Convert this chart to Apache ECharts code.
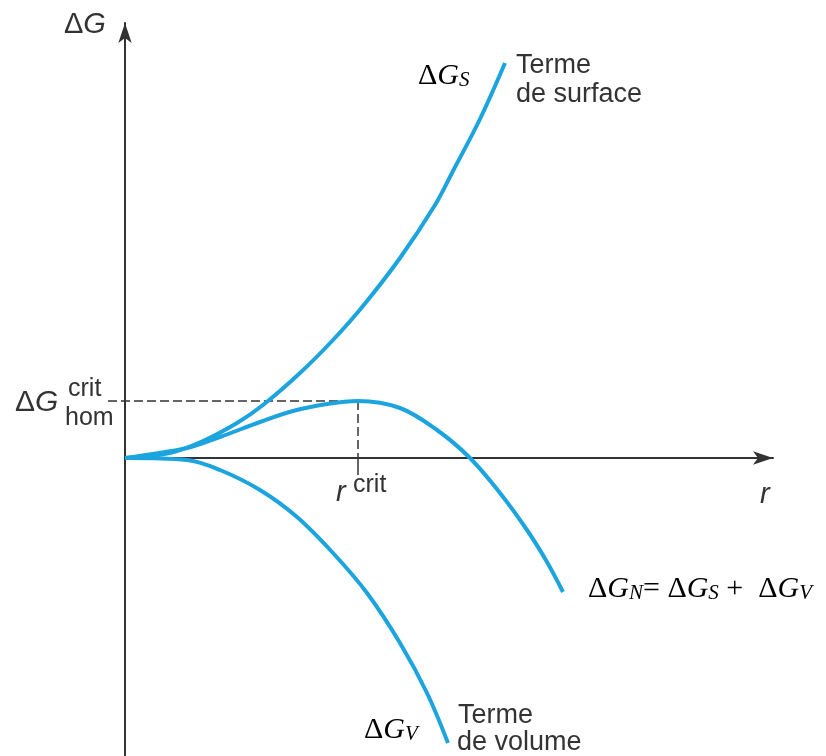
<!DOCTYPE html>
<html>
<head>
<meta charset="utf-8">
<script src="https://cdn.jsdelivr.net/npm/echarts@6/dist/echarts.min.js"></script>
<style>
  html, body { margin: 0; background: #fff; }
  #chart { width: 826px; height: 756px; }
</style>
</head>
<body>
<div id="chart"></div>
<script>
// radius r and free-energy terms, arbitrary units
const rSurface = [0, 4.5, 7.8, 11.2, 13.8, 17.5, 20.8, 23.8, 27.5, 31.0, 32.8, 35.5, 38.0];
const gSurface = [0, 0.5, 1.7, 3.5, 5.3, 8.5, 11.8, 15.2, 20.0, 25.3, 28.7, 33.9, 39.5];

const rTotal = [0, 6.2, 9.5, 13.5, 16.8, 20.2, 23.3, 27.5, 31.2, 34.5, 37.5, 40.2, 42.2, 43.8];
const gTotal = [0, 1.0, 2.1, 3.6, 4.7, 5.4, 5.7, 5.0, 2.8, 0, -3.5, -7.2, -10.4, -13.4];

const rVolume = [0, 6.2, 9.5, 13.5, 17.2, 20.8, 24.2, 27.5, 30.2, 32.3];
const gVolume = [0, -0.2, -1.2, -3.2, -5.9, -9.5, -13.5, -18.5, -23.5, -28.5];

const rCrit = 23.3;
const gCrit = 5.7;

const zip = (xs, ys) => xs.map((x, i) => [x, ys[i]]);

const blue = '#1ca4de';
const ink = '#333';
const sans = '"Liberation Sans", Arial, sans-serif';
const serif = '"Liberation Serif", "Times New Roman", serif';

let chart = echarts.init(document.getElementById('chart'));

function txt(x, y, text, font, fill) {
    return {
        type: 'text', x: x, y: y, silent: true,
        style: { text: text, font: font, fill: fill || ink, verticalAlign: 'middle' }
    };
}

// rich math label: Δ upright, G italic, subscript italic
function mathLabel(x, y, text) {
    return {
        type: 'text', x: x, y: y, silent: true,
        style: {
            text: text,
            fill: '#000',
            verticalAlign: 'middle',
            rich: {
                m: { font: '30px ' + serif, lineHeight: 30, verticalAlign: 'bottom', fill: '#000' },
                i: { font: 'italic 30px ' + serif, lineHeight: 30, verticalAlign: 'bottom', fill: '#000' },
                s: { font: 'italic 21px ' + serif, lineHeight: 10, verticalAlign: 'bottom', fill: '#000' }
            }
        }
    };
}

function curve(name, xs, ys) {
    return {
        name: name, type: 'line', smooth: 0.35, symbol: 'none', z: 3,
        lineStyle: { color: blue, width: 4 },
        data: zip(xs, ys)
    };
}

chart.setOption({
    animation: false,
    grid: { left: 125, right: 53, top: 23, bottom: 0 },
    xAxis: {
        type: 'value', min: 0, max: 64.8,
        axisLine: { onZero: true, symbol: ['none', 'arrow'], symbolSize: [10, 20], lineStyle: { color: '#333', width: 2 } },
        axisTick: { show: false }, axisLabel: { show: false }, splitLine: { show: false }
    },
    yAxis: {
        type: 'value', min: -29.8, max: 43.5,
        axisLine: { onZero: false, symbol: ['none', 'arrow'], symbolSize: [10, 20], lineStyle: { color: '#333', width: 2 } },
        axisTick: { show: false }, axisLabel: { show: false }, splitLine: { show: false }
    },
    series: [
        curve('ΔG_S', rSurface, gSurface),
        curve('ΔG_N', rTotal, gTotal),
        curve('ΔG_V', rVolume, gVolume)
    ]
});

// critical point guides, placed through the axes
const peak = chart.convertToPixel({ gridIndex: 0 }, [rCrit, gCrit]);
const foot = chart.convertToPixel({ gridIndex: 0 }, [rCrit, 0]);
const dash = { stroke: '#333', lineWidth: 1.5, lineDash: [9, 4] };

chart.setOption({
    graphic: [
        { type: 'line', silent: true, z: 1, shape: { x1: 108, y1: peak[1], x2: peak[0], y2: peak[1] }, style: dash },
        { type: 'line', silent: true, z: 1, shape: { x1: peak[0], y1: peak[1], x2: foot[0], y2: foot[1] }, style: dash },
        { type: 'line', silent: true, z: 1, shape: { x1: foot[0], y1: foot[1], x2: foot[0], y2: foot[1] + 17 }, style: { stroke: '#333', lineWidth: 1.5 } },
        {
            type: 'text', x: 64, y: 25, silent: true,
            style: {
                text: '{a|Δ}{b|G}', verticalAlign: 'middle',
                rich: {
                    a: { font: '29px ' + sans, fill: ink },
                    b: { font: 'italic 29px ' + sans, fill: ink }
                }
            }
        },
        {
            type: 'text', x: 15, y: 403, silent: true,
            style: {
                text: '{a|Δ}{b|G}', verticalAlign: 'middle',
                rich: {
                    a: { font: '30px ' + sans, fill: ink },
                    b: { font: 'italic 30px ' + sans, fill: ink }
                }
            }
        },
        txt(68, 389, 'crit', '25px ' + sans),
        txt(65, 418, 'hom', '25px ' + sans),
        txt(336, 493, 'r', 'italic 29px ' + sans),
        txt(353, 485, 'crit', '25px ' + sans),
        txt(760, 495, 'r', 'italic 29px ' + sans),
        txt(516, 66, 'Terme', '27px ' + sans),
        txt(516, 95, 'de surface', '27px ' + sans),
        txt(458, 716, 'Terme', '27px ' + sans),
        txt(457, 743, 'de volume', '27px ' + sans),
        mathLabel(418, 76, '{m|Δ}{i|G}{s|S}'),
        mathLabel(364, 730, '{m|Δ}{i|G}{s|V}'),
        mathLabel(588, 589, '{m|Δ}{i|G}{s|N}{m|= Δ}{i|G}{s|S}{m| +  Δ}{i|G}{s|V}')
    ]
});
</script>
</body>
</html>
